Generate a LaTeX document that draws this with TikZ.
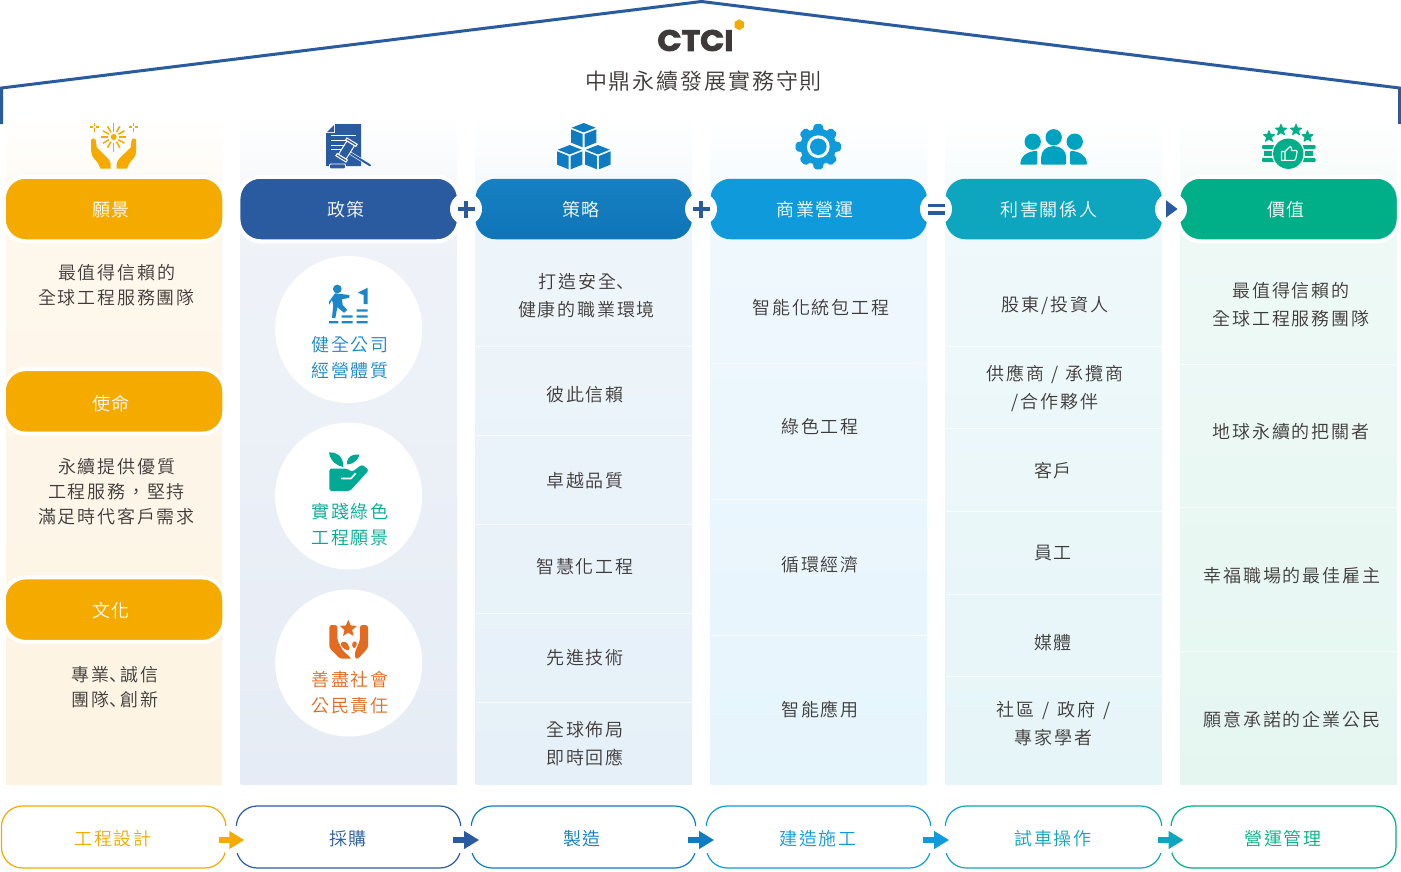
\documentclass[tikz,border=0pt]{standalone}
\usepackage{fontspec}
\usetikzlibrary{arrows.meta,calc}
\setmainfont{Noto Sans CJK TC}
\newfontfamily\cjkL[LetterSpace=10]{Noto Sans CJK TC DemiLight}
\newfontfamily\cjkT[LetterSpace=8.5]{Noto Sans CJK TC DemiLight}
\newfontfamily\jpL{Noto Sans CJK JP DemiLight}
\newfontfamily\logofont{Poppins}[FakeBold=2.6]
\newcommand{\dun}[1]{{\jpL 、}\hspace{#1}}
\definecolor{ink}{HTML}{3E3A39}
\definecolor{cA}{HTML}{F5AA00}
\definecolor{cB}{HTML}{2A5BA1}
\definecolor{cC}{HTML}{0F7CC1}
\definecolor{cD}{HTML}{0F9ADB}
\definecolor{cE}{HTML}{0EA5BF}
\definecolor{cF}{HTML}{00AF87}
\definecolor{bgA}{HTML}{FDF3E2}
\definecolor{bgB}{HTML}{E6ECF5}
\definecolor{bgC}{HTML}{E5F0F8}
\definecolor{bgD}{HTML}{E6F4FC}
\definecolor{bgE}{HTML}{E6F5F8}
\definecolor{bgF}{HTML}{E5F6F1}
\definecolor{icP}{HTML}{1B87C9}
\definecolor{icG}{HTML}{00A993}
\definecolor{icO}{HTML}{E36A21}
\definecolor{icE}{HTML}{00A3BF}
\tikzset{
  pill/.style={rectangle,rounded corners=20pt,minimum width=216.5pt,minimum height=60.5pt,inner sep=0pt},
  halo/.style={pill,draw=white,line width=4pt,rounded corners=22pt,minimum width=220.5pt,minimum height=64.5pt},
  flow/.style={rectangle,rounded corners=21pt,minimum height=62pt,inner sep=0pt,draw=#1,line width=1.2pt,fill=white},
  headtext/.style={font=\cjkL\fontsize{18}{24}\selectfont,text=white,inner sep=0pt},
  bodytext/.style={font=\cjkL\fontsize{18}{25}\selectfont,text=ink,align=center,inner sep=0pt},
  bodywide/.style={font=\cjkL\fontsize{18}{28}\selectfont,text=ink,align=center,inner sep=0pt},
  circletext/.style={font=\cjkL\fontsize{18}{26}\selectfont,text=#1,align=center,inner sep=0pt},
  flowtext/.style={font=\cjkL\fontsize{18}{24}\selectfont,text=#1,inner sep=0pt},
  sepline/.style={white,opacity=.75,line width=1pt},
  flowarrow/.style={draw=#1,line width=6.5pt,-{Triangle[length=15pt,width=17pt]}},
  badge/.style={fill=white,draw=none}
}
\newcommand{\colbg}[3]{%
  \shade[top color=white,bottom color=#3!65] (#1,115) rectangle (#2,240);
  \shade[top color=#3!65,bottom color=#3] (#1,240) rectangle (#2,784);
}
\newcommand{\cubeic}[2]{%
  \fill[cC] (#1,#2) -- ++(12,4.7) -- ++(-12,4.7) -- ++(-12,-4.7) -- cycle;
  \fill[cC] ({#1-12.7},{#2+6.3}) -- ++(11.7,4.7) -- ++(0,13.3) -- ++(-11.7,-4.7) -- cycle;
  \fill[cC] ({#1+12.7},{#2+6.3}) -- ++(-11.7,4.7) -- ++(0,13.3) -- ++(11.7,-4.7) -- cycle;
}
\newcommand{\starp}[3]{%
  \fill[cF,draw=cF,line width=.7pt,line join=round,shift={(#1,#2)}] (-90:#3)
    \foreach \a in {1,...,9}{ -- ({-90+36*\a}:{ifthenelse(mod(\a,2)==0,#3,#3*0.45)}) } -- cycle;
}
\newcommand{\hillhand}{%
  \fill[cA] (91.2,140) .. controls (91.2,138) and (95.7,138) .. (95.7,140) -- (96.8,147.5) -- (107,157.5) .. controls (109.5,160) and (110.7,162) .. (110.7,164) -- (110.7,168.7) -- (100.5,168.7) .. controls (99.5,165) and (97.5,162) .. (94.5,159) .. controls (92,156) and (91.2,154) .. (91.2,151) -- cycle;
}
\begin{document}
\begin{tikzpicture}[x=1pt,y=-1pt]
\useasboundingbox (0,0) rectangle (1401,871);
\fill[white] (0,0) rectangle (1401,871);
% columns
\colbg{6}{222}{bgA}
\colbg{240.5}{457}{bgB}
\colbg{475.5}{692}{bgC}
\colbg{710.5}{927}{bgD}
\colbg{945.5}{1162}{bgE}
\colbg{1180}{1397}{bgF}
% roof
\draw[cB,line width=3pt,line join=miter] (1.5,124) -- (1.5,88) -- (701.5,1.5) -- (1399.5,88) -- (1399.5,124);
% logo
\node[inner sep=0pt,text=ink] (logo) at (695.5,40.5) {\resizebox{76pt}{21pt}{\logofont\bfseries CTCI}};
\fill[cA,shift={(739.2,24.7)}] (90:5.4) -- (30:5.4) -- (-30:5.4) -- (-90:5.4) -- (-150:5.4) -- (150:5.4) -- cycle;
\node[font=\cjkT\fontsize{22}{26}\selectfont,text=ink,inner sep=0pt] (title) at (703.5,81.5) {中鼎永續發展實務守則};
% separators
\foreach \y in {346.7,435,524.3,613.5,702.7}{\draw[sepline] (475.5,\y) -- (692,\y);}
\foreach \y in {363.7,499,635}{\draw[sepline] (710.5,\y) -- (927,\y);}
\foreach \y in {346.7,428.3,511,594,676.5}{\draw[sepline] (945.5,\y) -- (1162,\y);}
\foreach \y in {364.3,507.3,651}{\draw[sepline] (1180,\y) -- (1397,\y);}
% header pills
\node[halo,fill=cA] (p1a) at (114,209) {};
\node[halo,fill=cA] (p1b) at (114,401.4) {};
\node[halo,fill=cA] (p1c) at (114,609.7) {};
\node[halo,fill=cB] (p2) at (348.7,209) {};
\node[pill,top color=cC!97!white,bottom color=cC!95!black] (p3) at (583.7,209) {};
\node[pill,fill=cD] (p4) at (818.7,209) {};
\node[pill,fill=cE] (p5) at (1053.7,209) {};
\node[halo,fill=cF] (p6) at (1288.5,209) {};
% notches
\fill[badge] (466,209) circle (16);
\fill[badge] (701,209) circle (16);
\fill[badge] (936,209) circle (16);
\fill[badge] (1171,209) circle (16);
\fill[cB] (457.5,207) rectangle (474.5,211);
\fill[cB] (464,200.5) rectangle (468,217.5);
\fill[cB] (692.5,207) rectangle (709.5,211);
\fill[cB] (699,200.5) rectangle (703,217.5);
\fill[cB] (928,203.5) rectangle (945,207.2);
\fill[cB] (928,211) rectangle (945,214.7);
\fill[cB] (1166,200.2) -- (1177.5,209) -- (1166,217.6) -- cycle;
% header texts
\node[headtext] (h1a) at (111,210) {願景};
\node[headtext] (h1b) at (111,404) {使命};
\node[headtext] (h1c) at (111,611) {文化};
\node[headtext] (h2) at (346,210) {政策};
\node[headtext] (h3) at (581,210) {策略};
\node[headtext] (h4) at (815,210) {商業營運};
\node[headtext] (h5) at (1049,210) {利害關係人};
\node[headtext] (h6) at (1286,210) {價值};
% col 1
\node[bodytext] (t1a) at (116.5,285) {最值得信賴的\\全球工程服務團隊};
\node[bodytext] (t1b) at (116.5,491.5) {永續提供優質\\工程服務，堅持\\滿足時代客戶需求};
\node[bodytext] (t1c) at (115,687) {專業\dun{-7pt}誠信\\團隊\dun{-7pt}創新};
% col 2
\fill[white] (348.7,329.5) circle (73.5);
\fill[white] (348.7,496) circle (73.5);
\fill[white] (348.7,663) circle (73.5);
\node[circletext=icP] (c1) at (350,358) {健全公司\\經營體質};
\node[circletext=icG] (c2) at (350,524.5) {實踐綠色\\工程願景};
\node[circletext=icO] (c3) at (350,693) {善盡社會\\公民責任};
% col 3
\node[bodywide] (t3a) at (586.5,296) {打造安全\dun{-5pt}\\健康的職業環境};
\node[bodytext] (t3b) at (585,395) {彼此信賴};
\node[bodytext] (t3c) at (585,481) {卓越品質};
\node[bodytext] (t3d) at (585,567) {智慧化工程};
\node[bodytext] (t3e) at (585,658) {先進技術};
\node[bodywide] (t3f) at (585,744) {全球佈局\\即時回應};
% col 4
\node[bodytext] (t4a) at (821,308) {智能化統包工程};
\node[bodytext] (t4b) at (820,427) {綠色工程};
\node[bodytext] (t4c) at (820,565) {循環經濟};
\node[bodytext] (t4d) at (820,710) {智能應用};
% col 5
\node[bodytext] (t5a) at (1055,306) {股東/投資人};
\node[bodywide] (t5b) at (1055,388) {供應商\hspace{7pt}/\hspace{7pt}承攬商\\/合作夥伴};
\node[bodytext] (t5c) at (1053,471) {客戶};
\node[bodytext] (t5d) at (1053,553) {員工};
\node[bodytext] (t5e) at (1053,643) {媒體};
\node[bodywide] (t5f) at (1053.5,724) {社區\hspace{8pt}/\hspace{8pt}政府\hspace{8pt}/\\專家學者};
% col 6
\node[bodywide] (t6a) at (1291,305) {最值得信賴的\\全球工程服務團隊};
\node[bodytext] (t6b) at (1291,432) {地球永續的把關者};
\node[bodytext] (t6c) at (1292,576) {幸福職場的最佳雇主};
\node[bodytext] (t6d) at (1292,720) {願意承諾的企業公民};
% bottom flow
\node[flow=cA,minimum width=224.5pt] (b1) at (113.7,837) {};
\node[flow=cB,minimum width=224.5pt] (b2) at (348.5,837) {};
\node[flow=cC,minimum width=224.5pt] (b3) at (583.5,837) {};
\node[flow=cD,minimum width=224.5pt] (b4) at (818.5,837) {};
\node[flow=cE,minimum width=216.5pt] (b5) at (1053.5,837) {};
\node[flow=cF,minimum width=225pt] (b6) at (1283.5,837) {};
\fill[white] ($(b1.east)+(-2,-11)$) rectangle ($(b2.west)+(2,16)$);
\fill[white] ($(b2.east)+(-2,-11)$) rectangle ($(b3.west)+(2,16)$);
\fill[white] ($(b3.east)+(-2,-11)$) rectangle ($(b4.west)+(2,16)$);
\fill[white] ($(b4.east)+(-2,-11)$) rectangle ($(b5.west)+(2,16)$);
\fill[white] ($(b5.east)+(-2,-11)$) rectangle ($(b6.west)+(2,16)$);
\node[flowtext=cA] (f1) at (113,839) {工程設計};
\node[flowtext=cB] (f2) at (348,839) {採購};
\node[flowtext=cC] (f3) at (582,839) {製造};
\node[flowtext=cD] (f4) at (818,839) {建造施工};
\node[flowtext=cE] (f5) at (1053,839) {試車操作};
\node[flowtext=cF] (f6) at (1283,839) {營運管理};
\draw[flowarrow=cA] ($(b1.east)+(-8,3)$) -- ($(b2.west)+(8.7,3)$);
\draw[flowarrow=cB] ($(b2.east)+(-8.3,3)$) -- ($(b3.west)+(8.5,3)$);
\draw[flowarrow=cC] ($(b3.east)+(-8.3,3)$) -- ($(b4.west)+(8.5,3)$);
\draw[flowarrow=cD] ($(b4.east)+(-8.3,3)$) -- ($(b5.west)+(4.5,3)$);
\draw[flowarrow=cE] ($(b5.east)+(-4.5,3)$) -- ($(b6.west)+(13.3,3)$);
% icon 1: hands and sun
\fill[cA] (113.7,137) circle (3);
\foreach \a in {0,30,...,330}{\draw[cA,line width=1.5pt] (113.7,137) ++(\a:5.5) -- ++(\a:{mod(\a,180)==90 ? 9 : 6.8});}
\foreach \cx in {94.3,133.3}{\foreach \a in {0,90,180,270}{\draw[cA,line width=1.4pt] (\cx,127) ++(\a:1.3) -- ++(\a:3.2);}}
\hillhand
\begin{scope}[xshift=227.4pt,xscale=-1]
\hillhand
\end{scope}
% icon 2: document and gavel
\fill[cB] (335,124) -- (361,124) -- (361,166) -- (326,166) -- (326,133) -- (335,133) -- cycle;
\fill[cB] (327,132) -- (334,132) -- (334,125) -- cycle;
\draw[white,line width=.9pt] (331,135.5) -- (356,135.5) (331,140) -- (350,140) (331,145) -- (346,145) (331,149.5) -- (343,149.5);
\draw[white,line width=3.2pt] (350,153) -- (369.5,165);
\draw[cB,line width=2pt,line cap=round] (350,153) -- (370,165.3);
\begin{scope}[shift={(346.5,150)},rotate=-32]
\draw[white,fill=cB,line width=1pt] (-4.5,-8) rectangle (4.5,8);
\draw[white,fill=cB,line width=1pt] (-6,-10.5) rectangle (6,-8);
\draw[white,fill=cB,line width=1pt] (-6,8) rectangle (6,10.5);
\end{scope}
\draw[white,fill=cB,line width=.8pt,rounded corners=1pt] (329.5,164) rectangle (345.5,168.8);
% icon 3: cubes
\cubeic{583.7}{123}
\cubeic{569.7}{145}
\cubeic{597.9}{145}
% icon 4: gear
\fill[cD] (818.3,146.7) circle (18);
\foreach \a in {0,45,...,315}{
  \fill[cD,rounded corners=1.8pt,shift={(818.3,146.7)},rotate=\a] (-6,14) -- (-4.2,22.6) -- (4.2,22.6) -- (6,14) -- cycle;
}
\fill[white] (818.3,146.7) circle (11.4);
\fill[cD] (818.3,146.7) circle (8.3);
% icon 5: people
\fill[icE] (1053.7,137.3) circle (8.2);
\fill[icE] (1032.7,141.7) circle (8.2);
\fill[icE] (1074.7,141.7) circle (8.2);
\fill[icE,rounded corners=1pt] (1041.2,164.5) -- (1041.2,158) .. controls (1041.2,151) and (1046.5,146.2) .. (1053.7,146.2) .. controls (1060.9,146.2) and (1066.2,151) .. (1066.2,158) -- (1066.2,164.5) -- cycle;
\fill[icE,rounded corners=1pt] (1037.3,164.5) -- (1020.2,164.5) .. controls (1020.5,157) and (1027,151) .. (1037.3,151) -- cycle;
\fill[icE,rounded corners=1pt] (1070.1,164.5) -- (1087.2,164.5) .. controls (1086.9,157) and (1080.4,151) .. (1070.1,151) -- cycle;
% icon 6: stars and thumb
\starp{1269}{136.5}{6}
\starp{1281}{130}{6}
\starp{1296}{130}{6}
\starp{1307.5}{136.5}{6}
\foreach \x in {1262,1302}{
  \fill[cF,rounded corners=1pt] (\x,145) rectangle ++(13.5,4);
  \fill[cF,rounded corners=1pt] (\x,157.8) rectangle ++(13.5,4.2);
}
\fill[cF] (1264,151) rectangle (1272,156);
\fill[cF] (1305,151) rectangle (1313,156);
\fill[white] (1288.3,153.7) circle (16.5);
\fill[cF] (1288.3,153.7) circle (15.2);
\draw[white,line width=1.1pt,line join=round] (1281.5,151.5) rectangle (1285,160.3) (1285,151.5) -- (1289,147.5) .. controls (1289.5,146) and (1291.5,146) .. (1291.5,148) -- (1291.5,150.5) -- (1296,150.5) .. controls (1297,150.5) and (1297.3,151.5) .. (1297,152.5) -- (1295.5,159.5) .. controls (1295.3,160.3) and (1295,160.3) .. (1294,160.3) -- (1285,160.3);
% circle icon: person
\fill[icP] (337.3,289) circle (4.4);
\fill[icP,line join=round] (335,293.3) -- (349.3,295) -- (349.3,297.7) -- (342,299.3) -- (342.7,305) -- (347.3,310) -- (344,312.7) -- (337.3,307.3) -- (335.3,318.3) -- (332,317.7) -- (333.3,305) -- (332,300) -- (329,305) -- (329,301.7) -- cycle;
\fill[icP] (357.7,292.7) -- (367.7,287.7) -- (367.7,304) -- (363.7,304) -- (363.7,295) -- cycle;
\fill[icP] (356.7,309.3) rectangle (367.7,311.7) (356.7,315.3) rectangle (367.7,317.7) (356.7,321) rectangle (367.7,323.3) (341.7,315.3) rectangle (352.7,317.7) (341.7,321) rectangle (352.7,323.3) (329,321) rectangle (338.3,323.3);
% circle icon: plant on hand
\fill[icG] (329,452.3) .. controls (336,452) and (343,455) .. (343.5,467) .. controls (337,466) and (330,461) .. (329,452.3) -- cycle;
\fill[icG] (347,462) .. controls (348,456) and (353,454) .. (359.5,454.5) .. controls (358,460) and (354,464) .. (347,464.5) -- cycle;
\fill[icG,rounded corners=2.5pt] (329.3,468.5) -- (347,468.5) -- (352,472) -- (362,464.5) -- (369,470) -- (350,491) -- (329.3,491) -- cycle;
\draw[white,line width=1.6pt,line cap=round,line join=round] (341.7,478.5) -- (351,478.5) -- (355.5,473.5);
% circle icon: star and hands
\fill[icO,shift={(348.3,628.7)}] (-90:9) \foreach \a in {1,...,9}{ -- ({-90+36*\a}:{ifthenelse(mod(\a,2)==0,9,9*0.45)}) } -- cycle;
\fill[icO,rounded corners=2.5pt] (329.3,625) -- (337.3,625) -- (337.3,640) -- (343,651) -- (352,658.7) -- (340,658.7) -- (329.3,648) -- cycle;
\fill[icO,rounded corners=2.5pt] (368,625) -- (360,625) -- (360,640) -- (355,652) -- (355,658.7) -- (358,658.7) -- (368,648) -- cycle;
\fill[icO,rounded corners=2pt] (340,644) -- (344,640.5) -- (349,645) -- (349.5,650.5) -- (345,650) -- cycle;
\fill[icO,rounded corners=1.5pt] (351.5,644) -- (355,640.5) -- (357.5,644) -- (354,649) -- cycle;
\end{tikzpicture}
\end{document}
